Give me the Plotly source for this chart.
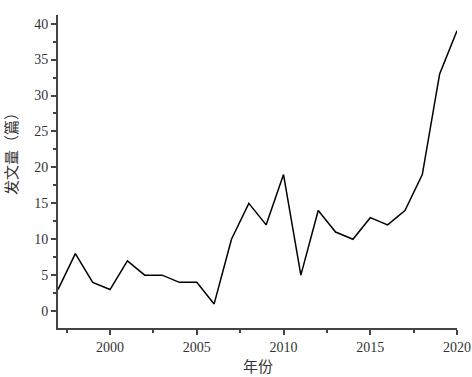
import plotly.graph_objects as go

years = list(range(1997, 2021))
counts = [3, 8, 4, 3, 7, 5, 5, 4, 4, 1, 10, 15, 12, 19, 5, 14, 11, 10, 13, 12, 14, 19, 33, 39]
x_ticks = [2000, 2005, 2010, 2015, 2020]
y_ticks = [0, 5, 10, 15, 20, 25, 30, 35, 40]

fig = go.Figure()
fig.add_trace(go.Scatter(x=years, y=counts, mode="lines",
                         line=dict(color="black", width=1.5), showlegend=False))

font_num = "Times New Roman"
cjk = "Noto Sans CJK SC"
fig.update_layout(
    width=472, height=377,
    margin=dict(l=58, r=15, t=15, b=49, autoexpand=False),
    paper_bgcolor="white", plot_bgcolor="white",
    font=dict(family=font_num, size=14, color="#333333"),
    annotations=[
        dict(text="年份", xref="paper", yref="paper", x=0.5, y=0, yshift=-37,
             showarrow=False, xanchor="center", yanchor="middle",
             font=dict(family=cjk, size=15, color="#333333")),
        dict(text="发文量（篇）", xref="paper", yref="paper", x=0, y=0.569, xshift=-47,
             showarrow=False, xanchor="center", yanchor="middle", textangle=-90,
             font=dict(family=cjk, size=15, color="#333333")),
    ],
)
fig.update_xaxes(
    range=[1997, 2020], tickvals=x_ticks, showgrid=False, zeroline=False, automargin=False,
    showline=True, linecolor="#444444", linewidth=2,
    ticks="outside", ticklen=5, tickwidth=1.5, tickcolor="#444444",
    tickfont=dict(family=font_num, size=14, color="#333333"),
    minor=dict(dtick=2.5, tick0=1997.5, ticks="outside", ticklen=3, tickwidth=1.5, tickcolor="#444444", showgrid=False),
)
fig.update_yaxes(
    range=[-2.35, 41.2], tickvals=y_ticks, showgrid=False, zeroline=False, automargin=False,
    showline=True, linecolor="#444444", linewidth=2,
    ticks="outside", ticklen=5, tickwidth=1.5, tickcolor="#444444",
    tickfont=dict(family=font_num, size=14, color="#333333"),
    minor=dict(dtick=2.5, tick0=2.5, ticks="outside", ticklen=3, tickwidth=1.5, tickcolor="#444444", showgrid=False),
)
fig.write_html("out.html", config={"displayModeBar": False},
               post_script="document.body.style.margin='0';document.body.style.overflow='hidden';")
